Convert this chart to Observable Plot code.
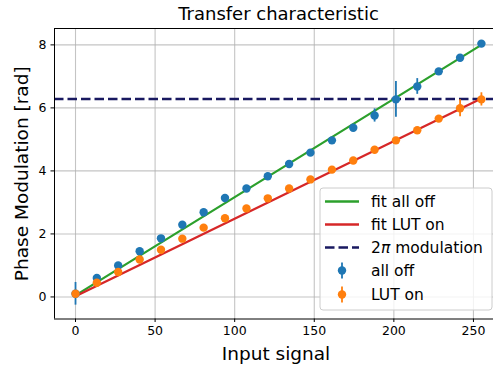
<!DOCTYPE html>
<html><head><meta charset="utf-8">
<script src="https://cdn.jsdelivr.net/npm/d3@7"></script>
<script src="https://cdn.jsdelivr.net/npm/@observablehq/plot@0.6"></script>
<style>body{margin:0;background:#fff} svg{font-family:"DejaVu Sans",sans-serif}</style>
</head><body><div id="chart"></div>
<script>
const inputSignal = [0,13.4,26.8,40.3,53.7,67.1,80.5,93.9,107.4,120.8,134.2,147.6,161.1,174.5,187.9,201.3,214.7,228.2,241.6,255];
const phaseAllOff = [0.10,0.60,1.00,1.45,1.86,2.29,2.69,3.14,3.44,3.83,4.22,4.58,4.97,5.37,5.76,6.27,6.68,7.16,7.59,8.04];
const errAllOff   = [0.36,0.05,0.04,0.04,0.05,0.04,0.04,0.04,0.04,0.04,0.04,0.04,0.04,0.04,0.21,0.57,0.25,0.05,0.05,0.04];
const phaseLutOn  = [0.10,0.45,0.79,1.19,1.50,1.85,2.20,2.50,2.81,3.13,3.44,3.73,4.04,4.33,4.67,4.97,5.29,5.66,5.99,6.27];
const errLutOn    = [0.05,0.04,0.04,0.04,0.04,0.04,0.04,0.04,0.04,0.04,0.04,0.04,0.04,0.04,0.04,0.04,0.05,0.05,0.27,0.21];
const fitX = [0, 255];
const fitAllOff = [0.05, 8.00];
const fitLutOn = [0.02, 6.30];
const twoPi = [6.283];
const xTicks = [0,50,100,150,200,250];
const yTicks = [0,2,4,6,8];
const legendLabels = ["fit all off","fit LUT on","2π modulation","all off","LUT on"];

const colors = {allOff:"#1f77b4", lutOn:"#ff7f0e", fitAll:"#2ca02c", fitLut:"#d62728", mod:"#191960"};
const xDom = [-13.2, 262.6], yDom = [-0.70, 8.52];

const ptsAll = inputSignal.map((x,i)=>({x, y:phaseAllOff[i], e:errAllOff[i]}));
const ptsLut = inputSignal.map((x,i)=>({x, y:phaseLutOn[i], e:errLutOn[i]}));
const fitA = fitX.map((x,i)=>({x, y:fitAllOff[i]}));
const fitL = fitX.map((x,i)=>({x, y:fitLutOn[i]}));

const svg = Plot.plot({
  width: 493, height: 370,
  marginTop: 28, marginBottom: 51.5, marginLeft: 54, marginRight: 0,
  x: {domain: xDom},
  y: {domain: yDom},
  style: {fontFamily: "DejaVu Sans, sans-serif", color: "#000", background: "#fff"},
  marks: [
    Plot.gridX(xTicks, {stroke: "#b0b0b0", strokeOpacity: 0.75, strokeWidth: 1.1}),
    Plot.gridY(yTicks, {stroke: "#b0b0b0", strokeOpacity: 0.75, strokeWidth: 1.1}),
    Plot.axisX({ticks: xTicks, tickSize: 3.5, tickPadding: 4, fontSize: 12.5, label: null}),
    Plot.axisY({ticks: yTicks, tickSize: 3.5, tickPadding: 4.5, fontSize: 12.5, label: null}),
    Plot.ruleY(twoPi, {stroke: colors.mod, strokeWidth: 2.5, strokeDasharray: "9.5,4"}),
    Plot.line(fitA, {x:"x", y:"y", stroke: colors.fitAll, strokeWidth: 2.3}),
    Plot.line(fitL, {x:"x", y:"y", stroke: colors.fitLut, strokeWidth: 2.3}),
    Plot.ruleX(ptsAll, {x:"x", y1: d=>d.y-d.e, y2: d=>d.y+d.e, stroke: colors.allOff, strokeWidth: 1.8}),
    Plot.dot(ptsAll, {x:"x", y:"y", r: 4.2, fill: colors.allOff}),
    Plot.ruleX(ptsLut, {x:"x", y1: d=>d.y-d.e, y2: d=>d.y+d.e, stroke: colors.lutOn, strokeWidth: 1.8}),
    Plot.dot(ptsLut, {x:"x", y:"y", r: 4.2, fill: colors.lutOn}),
    Plot.ruleY([yDom[1]], {stroke: "#000", strokeWidth: 1}),
    Plot.ruleY([yDom[0]], {stroke: "#000", strokeWidth: 1}),
    Plot.ruleX([xDom[0]], {stroke: "#000", strokeWidth: 1}),
    Plot.text(["Transfer characteristic"], {frameAnchor: "top", lineAnchor: "middle", textAnchor: "middle", dy: -14, dx: 4.5, fontSize: 18, fill: "#000"}),
    Plot.text(["Input signal"], {frameAnchor: "bottom", lineAnchor: "middle", textAnchor: "middle", dy: 35, dx: 2, fontSize: 18.5, fill: "#000"}),
    Plot.text(["Phase Modulation [rad]"], {frameAnchor: "left", lineAnchor: "middle", textAnchor: "middle", rotate: -90, dx: -32, fontSize: 18.5, fill: "#000"})
  ]
});
document.getElementById("chart").appendChild(svg);

// legend
const g = d3.select(svg).append("g").attr("font-size", 15.5).attr("font-family", "DejaVu Sans, sans-serif").attr("text-anchor", "start");
g.append("rect").attr("x", 320).attr("y", 188).attr("width", 172).attr("height", 122).attr("rx", 3)
  .attr("fill", "#fff").attr("fill-opacity", 0.8).attr("stroke", "#cccccc").attr("stroke-width", 1);
const rows = [201.5, 224.5, 247.5, 270.5, 294.5];
const kinds = [["line", colors.fitAll], ["line", colors.fitLut], ["dash", colors.mod], ["dot", colors.allOff], ["dot", colors.lutOn]];
legendLabels.forEach((lab, i) => {
  const y = rows[i], [k, c] = kinds[i];
  if (k === "line") g.append("line").attr("x1", 325).attr("x2", 359).attr("y1", y).attr("y2", y).attr("stroke", c).attr("stroke-width", 2.3);
  if (k === "dash") g.append("line").attr("x1", 325).attr("x2", 359).attr("y1", y).attr("y2", y).attr("stroke", c).attr("stroke-width", 2.5).attr("stroke-dasharray", "9.5,4");
  if (k === "dot") {
    g.append("line").attr("x1", 342).attr("x2", 342).attr("y1", y - 8).attr("y2", y + 8).attr("stroke", c).attr("stroke-width", 1.8);
    g.append("circle").attr("cx", 342).attr("cy", y).attr("r", 4.2).attr("fill", c);
  }
  const t = g.append("text").attr("x", 371).attr("y", y).attr("dominant-baseline", "central").attr("text-anchor", "start").attr("fill", "#000");
  if (lab.includes("π")) {
    const parts = lab.split("π");
    t.append("tspan").text(parts[0]);
    t.append("tspan").attr("font-style", "italic").text("π");
    t.append("tspan").text(parts[1]);
  } else t.text(lab);
});
</script></body></html>
